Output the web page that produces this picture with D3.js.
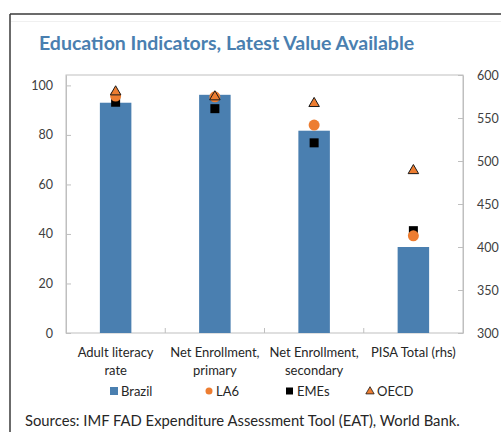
<!DOCTYPE html>
<html>
<head>
<meta charset="utf-8">
<script src="https://cdn.jsdelivr.net/npm/d3@7"></script>
<style>
  body { margin: 0; background: #fff; }
  svg { display: block; font-family: Lato, "Open Sans", sans-serif; }
</style>
</head>
<body>
<svg id="chart" width="501" height="432"></svg>
<script>
// categories (two-line labels)
var categories = [
  ["Adult literacy", "rate"],
  ["Net Enrollment,", "primary"],
  ["Net Enrollment,", "secondary"],
  ["PISA Total (rhs)"]
];
// which axis each category uses
var axisSide = ["left", "left", "left", "right"];

var brazil = [93.0, 96.2, 81.7, 400];
var la6 = [95.7, 95.4, 84.0, 413];
var emes = [93.2, 90.6, 76.8, 419];
var oecd = [97.8, 95.8, 93.1, 490];

var leftTicks = [0, 20, 40, 60, 80, 100];
var rightTicks = [300, 350, 400, 450, 500, 550, 600];

var svg = d3.select("#chart");

// outer frame
svg.append("line").attr("x1", 10).attr("x2", 501).attr("y1", 14).attr("y2", 14)
  .attr("stroke", "#3a3a3a").attr("stroke-width", 1.5);
svg.append("line").attr("x1", 10).attr("x2", 10).attr("y1", 14).attr("y2", 432)
  .attr("stroke", "#3a3a3a").attr("stroke-width", 1.5);
svg.append("line").attr("x1", 11).attr("x2", 501).attr("y1", 21.5).attr("y2", 21.5)
  .attr("stroke", "#f0f0f0").attr("stroke-width", 1);

svg.append("text")
  .attr("x", 39).attr("y", 50)
  .attr("font-size", 19.5).attr("font-weight", "bold")
  .attr("fill", "#4a7fb0")
  .text("Education Indicators, Latest Value Available");

var mLeft = 66, mRight = 463, mTop = 75, mBottom = 333;

var x = d3.scaleBand().domain(d3.range(categories.length)).range([mLeft, mRight]);
var yL = d3.scaleLinear().domain([0, 104.2]).range([mBottom, mTop]);
var yR = d3.scaleLinear().domain([300, 600]).range([mBottom, mTop]);
function yOf(i, v) { return axisSide[i] === "left" ? yL(v) : yR(v); }

var blue = "#4a7fb0", orange = "#ed7d31";

// plot frame
svg.append("rect").attr("x", mLeft).attr("y", mTop)
  .attr("width", mRight - mLeft).attr("height", mBottom - mTop)
  .attr("fill", "none").attr("stroke", "#bfbfbf").attr("stroke-width", 1);

// axes, ticks pointing inward
var gl = svg.append("g").attr("transform", "translate(" + mLeft + ",0)")
  .call(d3.axisLeft(yL).tickValues(leftTicks).tickSizeInner(-5).tickSizeOuter(0).tickPadding(13));
var gr = svg.append("g").attr("transform", "translate(" + mRight + ",0)")
  .call(d3.axisRight(yR).tickValues(rightTicks).tickSizeInner(-5).tickSizeOuter(0).tickPadding(14));
[gl, gr].forEach(function(g) {
  g.select(".domain").attr("stroke", "#bfbfbf");
  g.selectAll(".tick line").attr("stroke", "#bfbfbf");
  g.selectAll(".tick text").attr("fill", "#404040").attr("font-size", 12.5)
    .attr("font-family", "Lato, sans-serif");
});

// category separators on bottom axis
var seps = d3.range(1, categories.length);
svg.selectAll(".sep").data(seps).enter().append("line")
  .attr("x1", function(d) { return x(d); }).attr("x2", function(d) { return x(d); })
  .attr("y1", mBottom).attr("y2", mBottom - 5)
  .attr("stroke", "#bfbfbf");

// bars
var bw = 31.5;
svg.selectAll(".bar").data(brazil).enter().append("rect")
  .attr("x", function(d, i) { return x(i) + x.bandwidth() / 2 - bw / 2; })
  .attr("y", function(d, i) { return yOf(i, d); })
  .attr("width", bw)
  .attr("height", function(d, i) { return mBottom - yOf(i, d); })
  .attr("fill", blue);

function cx(i) { return x(i) + x.bandwidth() / 2; }
var tri = d3.symbol().type(d3.symbolTriangle).size(48);

// EMEs squares
svg.selectAll(".eme").data(emes).enter().append("rect")
  .attr("x", function(d, i) { return cx(i) - 4.5; })
  .attr("y", function(d, i) { return yOf(i, d) - 4.5; })
  .attr("width", 9).attr("height", 9).attr("fill", "#000");

// LA6 circles
svg.selectAll(".la6").data(la6).enter().append("circle")
  .attr("cx", function(d, i) { return cx(i); })
  .attr("cy", function(d, i) { return yOf(i, d); })
  .attr("r", 5.5).attr("fill", orange);

// OECD triangles
svg.selectAll(".oecd").data(oecd).enter().append("path")
  .attr("d", tri)
  .attr("transform", function(d, i) { return "translate(" + cx(i) + "," + (yOf(i, d) + 1) + ")"; })
  .attr("fill", orange).attr("stroke", "#1a1a1a").attr("stroke-width", 1);

// category labels
var lab = svg.selectAll(".cat").data(categories).enter().append("text")
  .attr("text-anchor", "middle")
  .attr("font-size", 13).attr("fill", "#262626");
lab.selectAll("tspan").data(function(d, i) { return d.map(function(s) { return { s: s, i: i }; }); })
  .enter().append("tspan")
  .attr("x", function(d) { return cx(d.i); })
  .attr("y", function(d, j) { return 357 + j * 17.5; })
  .text(function(d) { return d.s; });

// legend
var legend = [
  { name: "Brazil", x: 110, type: "bar" },
  { name: "LA6", x: 205, type: "circle" },
  { name: "EMEs", x: 286, type: "square" },
  { name: "OECD", x: 366, type: "tri" }
];
var ly = 391;
legend.forEach(function(l) {
  var g = svg.append("g");
  if (l.type === "bar") {
    g.append("rect").attr("x", l.x).attr("y", ly - 4).attr("width", 8).attr("height", 8).attr("fill", blue);
  } else if (l.type === "circle") {
    g.append("circle").attr("cx", l.x + 4).attr("cy", ly).attr("r", 3.5).attr("fill", orange);
  } else if (l.type === "square") {
    g.append("rect").attr("x", l.x).attr("y", ly - 3.5).attr("width", 7).attr("height", 7).attr("fill", "#000");
  } else {
    g.append("path").attr("d", d3.symbol().type(d3.symbolTriangle).size(30))
      .attr("transform", "translate(" + (l.x + 4) + "," + (ly + 0.5) + ")")
      .attr("fill", orange).attr("stroke", "#1a1a1a").attr("stroke-width", 0.8);
  }
  g.append("text").attr("x", l.x + 11).attr("y", ly + 4.5)
    .attr("font-size", 13).attr("fill", "#262626").text(l.name);
});

svg.append("text").attr("x", 25).attr("y", 426)
  .attr("font-size", 14.8).attr("fill", "#262626")
  .text("Sources: IMF FAD Expenditure Assessment Tool (EAT), World Bank.");
</script>
</body>
</html>
